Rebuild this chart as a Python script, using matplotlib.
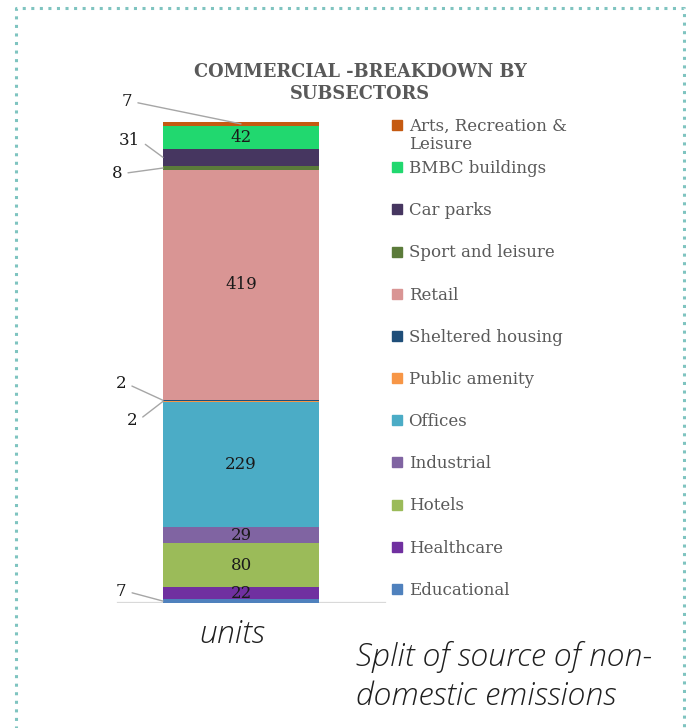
import matplotlib
matplotlib.use("Agg")
import matplotlib.pyplot as plt
from matplotlib.lines import Line2D

# bottom-up stack order
categories = ["Educational", "Healthcare", "Hotels", "Industrial", "Offices",
              "Public amenity", "Sheltered housing", "Retail", "Sport and leisure",
              "Car parks", "BMBC buildings", "Arts, Recreation &\nLeisure"]
values = [7, 22, 80, 29, 229, 2, 2, 419, 8, 31, 42, 7]
colors = ["#4f81bd", "#7030a0", "#9bbb59", "#8064a2", "#4bacc6", "#f79646",
          "#1f4e79", "#d99594", "#5b7b3a", "#463660", "#21d86f", "#c55a11"]
inside = [False, True, True, True, True, False, False, True, False, False, True, False]

TXT = "#595959"
SERIF = ["DejaVu Serif"]
ITAL = ["Open Sans", "DejaVu Sans"]
DPI = 100
fig = plt.figure(figsize=(6.86, 7.28), dpi=DPI)
W, H = 686, 728

def fx(px): return px / W
def fy(py): return 1 - py / H

# bar axes: x 100..390 px, y=0 at 603 px, y=total at 122 px
total = sum(values)
ax = fig.add_axes([fx(100), fy(603), fx(390) - fx(100), fy(122) - fy(603)])
ax.set_xlim((100 - 241) / 156, (390 - 241) / 156)
ax.set_ylim(0, total)
ax.axis("off")

bottom = 0
bars = []
for cat, v, c in zip(categories, values, colors):
    b = ax.bar(0, v, width=1.0, bottom=bottom, color=c, linewidth=0)
    bars.append(b)
    bottom += v
ax.axhline(0, xmin=18 / 290, xmax=285 / 290, color="#d9d9d9", lw=1.6, zorder=0)

for b, v, show in zip(bars, values, inside):
    if show:
        ax.bar_label(b, labels=[str(v)], label_type="center", fontsize=12,
                     family=SERIF, color="#1a1a1a")

# outside labels with leader lines (offsets in points from segment anchor)
cum = [sum(values[:i]) for i in range(len(values))]
mids = [c + v / 2 for c, v in zip(cum, values)]
outside = {11: ((0, mids[11]), (-82, 16)),
           9: ((-0.5, mids[9]), (-24, 12)),
           8: ((-0.5, mids[8]), (-33, -4)),
           6: ((-0.5, mids[6]), (-30, 12)),
           5: ((-0.5, mids[5]), (-22, -14)),
           0: ((-0.5, mids[0]), (-30, 7))}
for i, (xy, off) in outside.items():
    ax.annotate(str(values[i]), xy=xy, xytext=off, textcoords="offset points",
                ha="center", va="center", fontsize=12, family=SERIF, color="#1a1a1a",
                arrowprops=dict(arrowstyle="-", color="#a6a6a6", lw=1,
                                shrinkA=2, shrinkB=0, relpos=(1, 0.5)),
                annotation_clip=False)

# legend (top-down = reverse stack order)
lax = fig.add_axes([fx(385), fy(610), fx(640) - fx(385), fy(104) - fy(610)])
n = len(categories)
lax.set_xlim(0, 1)
lax.set_ylim(n - 0.5, -0.5)
lax.axis("off")
for i, (cat, c) in enumerate(zip(categories[::-1], colors[::-1])):
    lax.plot([12.5 / 255], [i], marker="s", ms=7.8, color=c, ls="none")
    lax.annotate(cat, xy=(12.5 / 255, i), xytext=(8, 5.2), textcoords="offset points",
                 va="top", ha="left", fontsize=12, family=SERIF, color=TXT,
                 linespacing=1.1)

fig.text(fx(360), fy(83), "COMMERCIAL -BREAKDOWN BY\nSUBSECTORS", ha="center",
         va="center", fontsize=12.8, fontweight="heavy", family=SERIF, color=TXT,
         linespacing=1.3)

fig.text(fx(199), fy(643), "units", ha="left", va="baseline", fontsize=23,
         style="italic", fontweight="light", family=ITAL, color="#1f1f1f")
fig.text(fx(356), fy(705), "Split of source of non-\ndomestic emissions", ha="left",
         va="baseline", fontsize=23, style="italic", fontweight="light", family=ITAL,
         color="#1f1f1f", linespacing=1.35)

# dotted frame
fig.add_artist(Line2D([fx(16), fx(16), fx(684), fx(684)], [-0.02, fy(8), fy(8), -0.02],
                      transform=fig.transFigure, color="#7fc4c0", lw=2.2,
                      ls=(0, (1, 1.8)), dash_capstyle="butt"))

fig.savefig("out.png", dpi=DPI)
